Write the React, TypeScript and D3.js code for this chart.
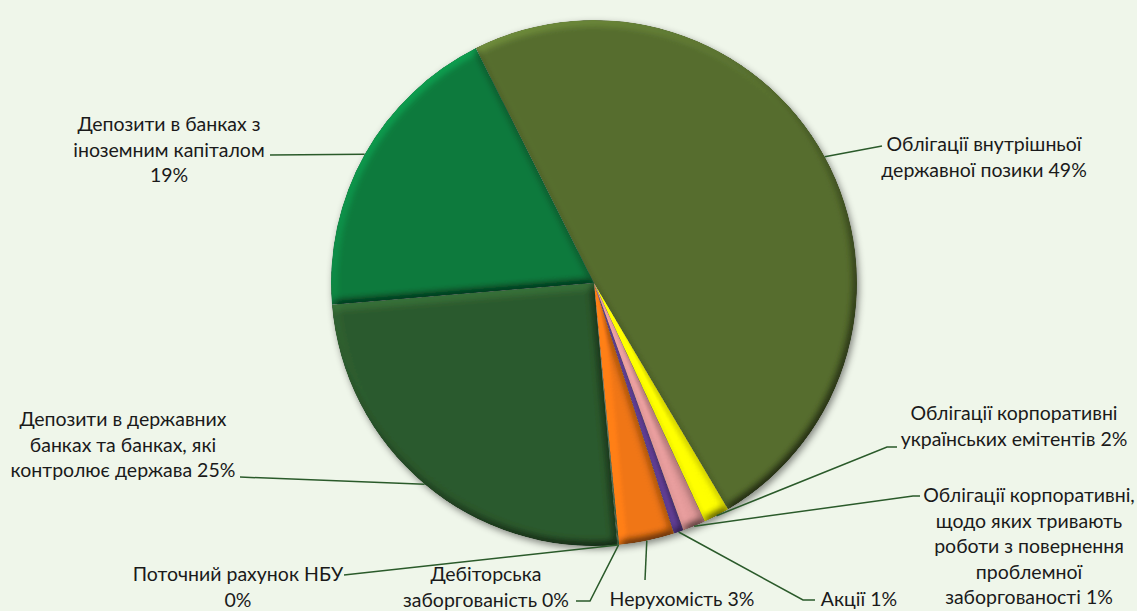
import { useMemo } from "react";
import { pie, arc, line } from "d3";

// label lines for each category, {p} is replaced with the rounded share
const categoryLines = [
  ["Облігації внутрішньої", "державної позики {p}"],
  ["Облігації корпоративні", "українських емітентів {p}"],
  ["Облігації корпоративні,", "щодо яких тривають", "роботи з повернення", "проблемної", "заборгованості {p}"],
  ["Акції {p}"],
  ["Нерухомість {p}"],
  ["Дебіторська", "заборгованість {p}"],
  ["Поточний рахунок НБУ", "{p}"],
  ["Депозити в державних", "банках та банках, які", "контролює держава {p}"],
  ["Депозити в банках з", "іноземним капіталом", "{p}"],
];
const shares = [48.9, 1.6, 1.4, 0.6, 3.4, 0.05, 0.05, 25.1, 18.9];

const sliceColors = ["#566d2e", "#ffff00", "#e39a9a", "#5b3a8c", "#f07614", "#2c5a2d", "#2c5a2d", "#2c5a2d", "#0a7a3d"];

// label placement (text centre x, first baseline y, leader elbow points)
const labelLayout: { x: number; y: number; leader: [number, number][] }[] = [
  { x: 984, y: 151, leader: [[882, 146]] },
  { x: 1014, y: 420, leader: [[887, 447], [897, 447]] },
  { x: 1029, y: 502, leader: [[913, 496], [920, 496]] },
  { x: 859, y: 606, leader: [[803, 600], [815, 600]] },
  { x: 682, y: 606, leader: [[645, 580]] },
  { x: 486, y: 581, leader: [[590, 601], [576, 601]] },
  { x: 238, y: 581, leader: [[344, 575]] },
  { x: 123, y: 426, leader: [[240, 477]] },
  { x: 169, y: 131, leader: [[270, 155]] },
];

const W = 1137;
const H = 611;
const cx = 594;
const cy = 283;
const R = 263;
const lineH = 25.5;

export default function App() {
  const arcs = useMemo(() => {
    const p = pie<number>()
      .sort(null)
      .value((d) => d)
      .startAngle((-26.7 * Math.PI) / 180)
      .endAngle((-26.7 * Math.PI) / 180 + 2 * Math.PI);
    return p(shares);
  }, []);

  const arcGen = arc<any>().innerRadius(0).outerRadius(R);
  const l = line();

  return (
    <div style={{ position: "absolute", left: 0, top: 0 }}>
      <svg width={W} height={H} style={{ display: "block", background: "#eff6ea" }}>
        <defs>
          <filter id="bevel" x="-10%" y="-10%" width="120%" height="120%" colorInterpolationFilters="sRGB">
            <feGaussianBlur in="SourceAlpha" stdDeviation="4" result="blur" />
            <feDiffuseLighting in="blur" surfaceScale="3" diffuseConstant="1" lightingColor="#ffffff" result="light">
              <feDistantLight azimuth="235" elevation="50" />
            </feDiffuseLighting>
            <feComposite in="SourceGraphic" in2="light" operator="arithmetic" k1="1.305" k2="0" k3="0" k4="0" result="lit" />
            <feComposite in="lit" in2="SourceAlpha" operator="in" />
          </filter>
          <filter id="shadow" x="-10%" y="-10%" width="120%" height="120%">
            <feDropShadow dx="2" dy="3" stdDeviation="3.5" floodColor="#000" floodOpacity="0.45" />
          </filter>
        </defs>
        <g transform={`translate(${cx},${cy})`} filter="url(#shadow)">
          {arcs.map((a, i) => (
            <path key={i} d={arcGen(a) || ""} fill={sliceColors[i]} filter="url(#bevel)" />
          ))}
        </g>
        <g fill="none" stroke="#2a5a2a" strokeWidth={1.5}>
          {arcs.map((a, i) => {
            const mid = (a.startAngle + a.endAngle) / 2;
            const start: [number, number] = [cx + R * Math.sin(mid), cy - R * Math.cos(mid)];
            return <path key={i} d={l([start, ...labelLayout[i].leader]) || ""} />;
          })}
        </g>
        <g fontFamily="Lato, 'Noto Sans', sans-serif" fontSize={19.5} fill="#1a1a1a" textAnchor="middle">
          {categoryLines.map((lines, i) => (
            <text key={i} x={labelLayout[i].x} y={labelLayout[i].y}>
              {lines.map((t, j) => (
                <tspan key={j} x={labelLayout[i].x} y={labelLayout[i].y + j * lineH}>
                  {t.replace("{p}", `${Math.round(shares[i])}%`)}
                </tspan>
              ))}
            </text>
          ))}
        </g>
      </svg>
    </div>
  );
}
